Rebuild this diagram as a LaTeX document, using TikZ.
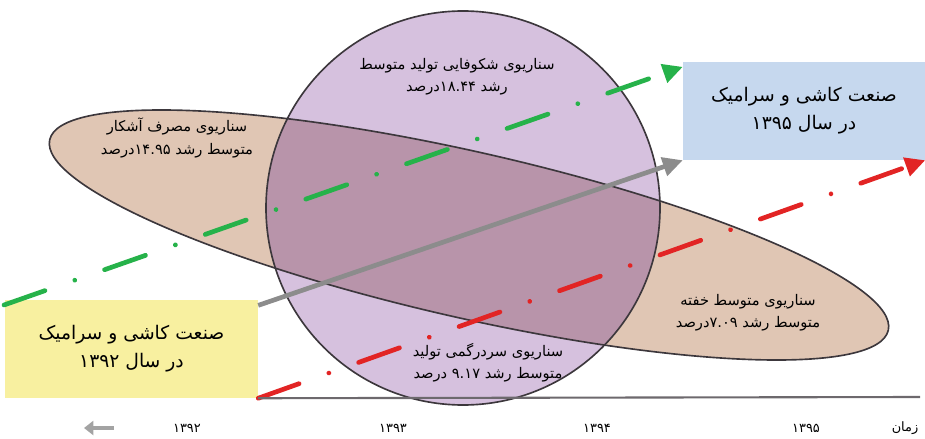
\documentclass[tikz,border=0pt]{standalone}
\usepackage{fontspec}
\usetikzlibrary{arrows.meta}
\newfontfamily\farsi[Script=Arabic]{DejaVu Sans}
\TeXXeTstate=1
\definecolor{scentan}{RGB}{224,198,180}
\definecolor{scenpurple}{RGB}{214,193,222}
\definecolor{scenmix}{RGB}{184,148,170}
\definecolor{edgegray}{RGB}{60,55,60}
\definecolor{boxyellow}{RGB}{248,240,160}
\definecolor{boxblue}{RGB}{198,216,238}
\definecolor{trendgreen}{RGB}{38,178,74}
\definecolor{trendred}{RGB}{226,36,36}
\definecolor{trendgray}{RGB}{140,140,140}

\begin{document}
\begin{tikzpicture}[x=0.03cm, y=0.03cm,
  scen/.style={draw=edgegray, line width=1.4pt},
  tanshape/.style={rotate around={-12.8:(469,203)}},
  lbl/.style={font=\farsi\fontsize{12.5}{19}\selectfont, align=center, inner sep=0pt},
  yearbox/.style={minimum width=7.26cm, minimum height=2.94cm, inner sep=0pt, align=center, font=\farsi\fontsize{16}{24}\selectfont},
  yearlbl/.style={font=\farsi\fontsize{11}{12}\selectfont, inner sep=0pt},
  trend/.style={line width=4pt, -{Triangle[length=17pt,width=16pt]}},
  dashdot/.style={line cap=round, dash pattern=on 37pt off 27pt on 0.01pt off 27pt}
]
\useasboundingbox (0,0) rectangle (925,438);

\fill[scentan, tanshape] (469,203) ellipse [x radius=430, y radius=83];
\fill[scenpurple] (463,230) circle [radius=197];
\begin{scope}
  \clip[tanshape] (469,203) ellipse [x radius=430, y radius=83];
  \fill[scenmix] (463,230) circle [radius=197];
\end{scope}
\draw[scen, tanshape] (469,203) ellipse [x radius=430, y radius=83];
\draw[scen] (463,230) circle [radius=197];

\node[lbl] (bloom) at (457,361) {\beginR سناریوی شکوفایی تولید متوسط\endR\\ \beginR رشد \beginL۱۸.۴۴\endL{}درصد\endR};
\node[lbl] (overt) at (177,300) {\beginR سناریوی مصرف آشکار\endR\\ \beginR متوسط رشد \beginL۱۴.۹۵\endL{}درصد\endR};
\node[lbl] (sleep) at (748,125) {\beginR سناریوی متوسط خفته\endR\\ \beginR متوسط رشد \beginL۷.۰۹\endL{}درصد\endR};
\node[lbl] (confus) at (488,75) {\beginR سناریوی سردرگمی تولید\endR\\ \beginR متوسط رشد \beginL۹.۱۷\endL{} درصد\endR};

\node[yearbox, fill=boxyellow, minimum width=7.59cm] (start) at (131.5,89) {\beginR صنعت کاشی و سرامیک\endR\\ \beginR در سال \beginL۱۳۹۲\endL\endR};
\node[yearbox, fill=boxblue] (goal) at (804,327) {\beginR صنعت کاشی و سرامیک\endR\\ \beginR در سال \beginL۱۳۹۵\endL\endR};

\coordinate (gs) at (4,133);
\coordinate (axend) at (920,41);
\draw[trend, dashdot, trendgreen] (gs) -- (goal.160);
\draw[trend, trendgray] (start.19) -- (goal.south west);
\draw[trend, dashdot, trendred] (start.south east) -- (goal.south east);
\draw[line width=1.8pt, edgegray!75] (start.south east) -- (axend);

\node[yearlbl] (when) at (905,10) {\beginR زمان\endR};
\node[yearlbl] (y95) at (806,10) {\beginL۱۳۹۵\endL};
\node[yearlbl] (y94) at (597,10) {\beginL۱۳۹۴\endL};
\node[yearlbl] (y93) at (393,10) {\beginL۱۳۹۳\endL};
\node[yearlbl] (y92) at (187,10) {\beginL۱۳۹۲\endL};
\coordinate (tR) at (114,10);
\coordinate (tL) at (84,10);
\draw[line width=3.5pt, trendgray!80, -{Triangle[length=8pt,width=12pt]}] (tR) -- (tL);
\end{tikzpicture}
\end{document}
